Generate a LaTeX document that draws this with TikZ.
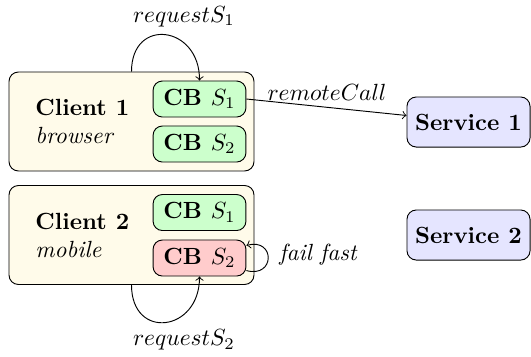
\documentclass[tikz,border=0pt]{standalone}
\begin{document}
\begin{tikzpicture}[x=0.4274pt,y=0.4274pt,
  clientbox/.style={draw, rounded corners=4pt, fill=clientfill, minimum width=104.7pt, minimum height=42.3pt, inner sep=0pt},
  cbbox/.style={draw, rounded corners=4pt, minimum width=39.7pt, minimum height=15.4pt, inner sep=0pt, font=\bfseries},
  cbok/.style={cbbox, fill=green!20},
  cbfail/.style={cbbox, fill=red!20},
  servicebox/.style={draw, rounded corners=4pt, fill=blue!10, minimum width=52.6pt, minimum height=21.4pt, inner sep=0pt, font=\bfseries},
  txt/.style={inner sep=0pt, anchor=base west},
  lbl/.style={inner sep=0pt, anchor=base},
  conn/.style={->}]
\definecolor{clientfill}{RGB}{255,251,234}
\useasboundingbox (0,0) rectangle (531,356);

\node[clientbox] (c1) at (131.5,234.5) {};
\node[clientbox] (c2) at (131.5,121) {};
\node[txt] (c1name) at (35,241) {\textbf{Client 1}};
\node[txt] (c1type) at (35,213) {\textit{browser}};
\node[txt] (c2name) at (35,127) {\textbf{Client 2}};
\node[txt] (c2type) at (35,99) {\textit{mobile}};

\node[cbok] (cb11) at (199.5,257) {CB $S_1$};
\node[cbok] (cb12) at (199.5,212) {CB $S_2$};
\node[cbok] (cb21) at (199.5,143.5) {CB $S_1$};
\node[cbfail] (cb22) at (199.5,98) {CB $S_2$};

\node[servicebox] (s1) at (468.5,234) {Service 1};
\node[servicebox] (s2) at (468.5,121) {Service 2};

\draw[conn] (c1.north) to[out=90,in=90,looseness=2.05] (cb11.north);
\node[lbl] (lreq1) at (184,334) {$requestS_1$};

\draw[conn] (c2.south) to[out=-90,in=-90,looseness=2.08] (cb22.south);
\node[lbl] (lreq2) at (184,10.5) {$requestS_2$};

\draw[conn] (cb22.-15) to[out=-15,in=15,distance=12.8pt] (cb22.15);
\node[txt] (lfail) at (279,95.5) {\textit{fail fast}};

\draw[conn] (cb11.east) -- (s1.174);
\node[lbl] (lremote) at (327,256) {$remoteCall$};
\end{tikzpicture}
\end{document}
